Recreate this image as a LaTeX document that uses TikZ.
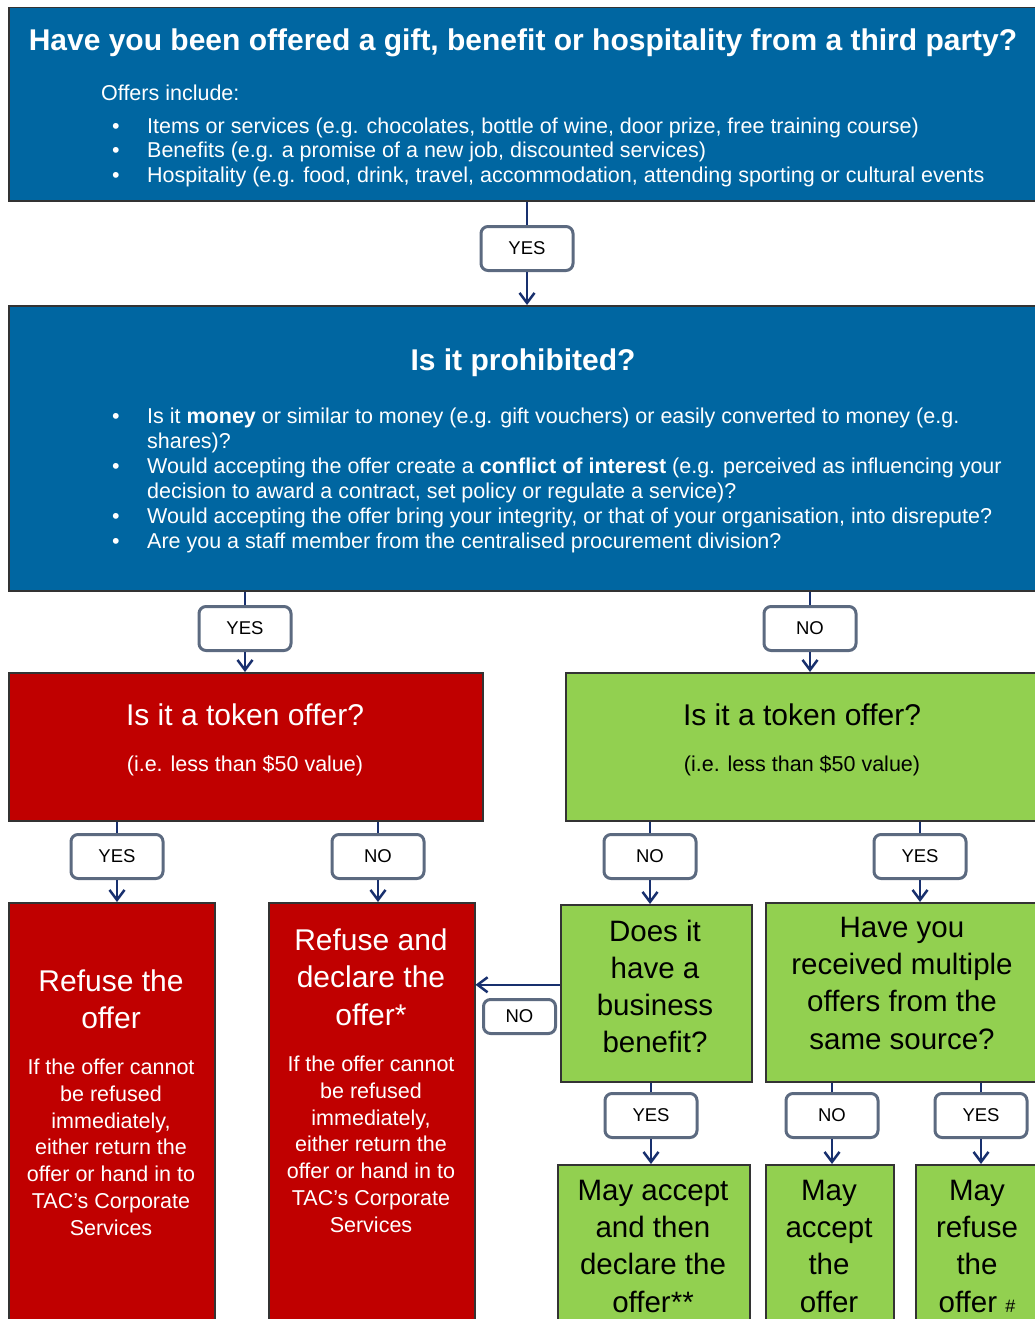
\documentclass[tikz,border=0pt]{standalone}
\usepackage{fontspec}
\setmainfont{Liberation Sans}
\usetikzlibrary{arrows.meta}
\definecolor{tacblue}{RGB}{0,102,161}
\definecolor{tacred}{RGB}{192,0,0}
\definecolor{tacgreen}{RGB}{146,208,80}
\definecolor{linknavy}{RGB}{24,48,110}
\definecolor{tagedge}{RGB}{92,106,128}
\newcommand{\bul}{\makebox[35pt][l]{\textbullet}}
\newcommand{\hang}{\hspace*{35pt}}
\newcommand{\fsz}[2]{\fontsize{#1}{#2}\selectfont}

\begin{document}
\begin{tikzpicture}[x=1pt,y=-1pt,
  panel/.style={draw=black!80,line width=1.5,anchor=north west,inner sep=0},
  answer/.style={draw=tagedge,fill=white,line width=3,rounded corners=7,minimum width=92,minimum height=44,inner sep=0,font=\fsz{18.5}{20}},
  link/.style={linknavy,line width=2.5},
  go/.style={link,-{Straight Barb[length=10pt,width=15pt]}},
  wtxt/.style={inner sep=0,text=white,align=center},
  btxt/.style={inner sep=0,text=black,align=center}]
\useasboundingbox (0,0) rectangle (1035,1319);
\node[panel,fill=tacblue,minimum width=1040,minimum height=193] (offer) at (8,7) {};
\node[panel,fill=tacblue,minimum width=1040,minimum height=285] (prohib) at (8,305) {};
\node[panel,fill=tacred,minimum width=474,minimum height=148] (tokred) at (8,672) {};
\node[panel,fill=tacgreen,minimum width=480,minimum height=148] (tokgreen) at (565,672) {};
\node[panel,fill=tacred,minimum width=206,minimum height=430] (refuse) at (8,902) {};
\node[panel,fill=tacred,minimum width=206,minimum height=430] (refdecl) at (268,902) {};
\node[panel,fill=tacgreen,minimum width=191,minimum height=177] (business) at (560,904) {};
\node[panel,fill=tacgreen,minimum width=280,minimum height=179] (multiple) at (765,902) {};
\node[panel,fill=tacgreen,minimum width=192,minimum height=170] (accdecl) at (557,1164) {};
\node[panel,fill=tacgreen,minimum width=128,minimum height=170] (accept) at (765,1164) {};
\node[panel,fill=tacgreen,minimum width=130,minimum height=170] (mayref) at (915,1164) {};

% multi-line texts sit on the baseline of their last line
\node[wtxt,anchor=base,font=\bfseries\fsz{30}{36}] (q1) at (523,51) {Have you been offered a gift, benefit or hospitality from a third party?};
\node[wtxt,anchor=base west,font=\fsz{21.5}{25}] (incl) at (101,101) {Offers include:};
\node[wtxt,anchor=base west,align=left,font=\fsz{21.5}{24.5}] (incl list) at (112,182) {\bul Items or services (e.g. chocolates, bottle of wine, door prize, free training course)\\\bul Benefits (e.g. a promise of a new job, discounted services)\\\bul Hospitality (e.g. food, drink, travel, accommodation, attending sporting or cultural events};
\node[wtxt,anchor=base,font=\bfseries\fsz{30}{36}] (q2) at (523,370) {Is it prohibited?};
\node[wtxt,anchor=base west,align=left,font=\fsz{21.5}{25}] (q2 list) at (112,548) {\bul Is it \textbf{money} or similar to money (e.g. gift vouchers) or easily converted to money (e.g.\\\hang shares)?\\\bul Would accepting the offer create a \textbf{conflict of interest} (e.g. perceived as influencing your\\\hang decision to award a contract, set policy or regulate a service)?\\\bul Would accepting the offer bring your integrity, or that of your organisation, into disrepute?\\\bul Are you a staff member from the centralised procurement division?};
\node[wtxt,anchor=base,font=\fsz{30}{36}] (q3) at (245,725) {Is it a token offer?};
\node[wtxt,anchor=base,font=\fsz{21.5}{25}] (q3 note) at (245,771) {(i.e. less than \$50 value)};
\node[btxt,anchor=base,font=\fsz{30}{36}] (q4) at (802,725) {Is it a token offer?};
\node[btxt,anchor=base,font=\fsz{21.5}{25}] (q4 note) at (802,771) {(i.e. less than \$50 value)};
\node[wtxt,anchor=base,font=\fsz{30}{37.5}] (r1) at (111,1028.5) {Refuse the\\offer};
\node[wtxt,anchor=base,font=\fsz{21.5}{26.7}] (r1 note) at (111,1235) {If the offer cannot\\be refused\\immediately,\\either return the\\offer or hand in to\\TAC's Corporate\\Services};
\node[wtxt,anchor=base,font=\fsz{30}{37.5}] (r2) at (371,1025) {Refuse and\\declare the\\offer*};
\node[wtxt,anchor=base,font=\fsz{21.5}{26.7}] (r2 note) at (371,1232) {If the offer cannot\\be refused\\immediately,\\either return the\\offer or hand in to\\TAC's Corporate\\Services};
\node[btxt,anchor=base,font=\fsz{29.5}{37}] (q5) at (655,1052) {Does it\\have a\\business\\benefit?};
\node[btxt,anchor=base,font=\fsz{29.5}{37.3}] (q6) at (902,1049) {Have you\\received multiple\\offers from the\\same source?};
\node[btxt,anchor=base,font=\fsz{29.5}{37.3}] (g1) at (653,1312) {May accept\\and then\\declare the\\offer**};
\node[btxt,anchor=base,font=\fsz{29.5}{37.3}] (g2) at (829,1312) {May\\accept\\the\\offer};
\node[btxt,anchor=base,font=\fsz{29.5}{37.3}] (g3) at (977,1312) {May\\refuse\\the\\offer {\fsz{18}{20}\#}};

\node[answer] (a1) at (527,248.5) {YES};
\node[answer] (a2) at (245,628.5) {YES};
\node[answer] (a3) at (810,628.5) {NO};
\node[answer] (a4) at (117,856.5) {YES};
\node[answer] (a5) at (378,856.5) {NO};
\node[answer] (a6) at (650,856.5) {NO};
\node[answer] (a7) at (920,856.5) {YES};
\node[answer,minimum width=72,minimum height=34] (a8) at (519.5,1016.5) {NO};
\node[answer] (a9) at (651,1115.5) {YES};
\node[answer] (a10) at (832,1115.5) {NO};
\node[answer] (a11) at (981,1115.5) {YES};

\foreach \lbl/\src/\dst in {a1/offer/prohib,a2/prohib/tokred,a3/prohib/tokgreen,a4/tokred/refuse,a5/tokred/refdecl,a6/tokgreen/business,a7/tokgreen/multiple,a9/business/accdecl,a10/multiple/accept,a11/multiple/mayref}{
  \draw[link] (\lbl |- \src.south) -- (\lbl.north);
  \draw[go] (\lbl.south) -- (\lbl |- \dst.north);
}
\draw[go] ([yshift=8.5pt]business.west) -- ([yshift=8.5pt]business.west -| refdecl.east);
\end{tikzpicture}
\end{document}
